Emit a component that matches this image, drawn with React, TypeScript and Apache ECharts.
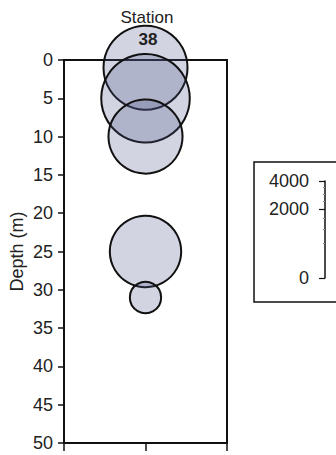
import React, { useEffect, useRef } from "react";
import * as echarts from "echarts";

// Station / depth data
const stationName = "Station";
const stationId = "38";
const depths = [1, 5, 10, 25, 31]; // m
const abundances = [3600, 4000, 2800, 2600, 500];
const depthTicks = [0, 5, 10, 15, 20, 25, 30, 35, 40, 45, 50];
const legendTicks = [0, 2000, 4000];
const legendMinorTicks = [500, 1000, 1500, 2500, 3000, 3500];

const FONT = "'Liberation Sans', Arial, Helvetica, sans-serif";
const SIZE_K = 1.4; // px diameter per sqrt(unit)

export default function App() {
  const ref = useRef<HTMLDivElement>(null);
  useEffect(() => {
    if (!ref.current) return;
    const chart = echarts.init(ref.current, undefined, { renderer: "svg" });
    const legendMax = Math.sqrt(legendTicks[legendTicks.length - 1]);
    const option: any = {
      animation: false,
      backgroundColor: "#fff",
      textStyle: { fontFamily: FONT },
      title: [
        {
          text: stationName,
          left: 142,
          top: 4,
          textAlign: "center",
          textStyle: { fontFamily: FONT, fontSize: 17, fontWeight: "normal", color: "#222" },
        },
        {
          text: stationId,
          left: 143,
          top: 26,
          textAlign: "center",
          textStyle: { fontFamily: FONT, fontSize: 17, fontWeight: "bold", color: "#222" },
        },
      ],
      grid: [
        {
          left: 64,
          top: 60,
          width: 163,
          height: 383,
          show: true,
          borderColor: "#111",
          borderWidth: 2,
          backgroundColor: "transparent",
        },
        { left: 325, top: 181, width: 10, height: 97 },
      ],
      xAxis: [
        {
          gridIndex: 0,
          type: "value",
          position: "bottom",
          min: 0,
          max: 2,
          interval: 1,
          axisLine: { show: true, onZero: false, lineStyle: { color: "#111", width: 2 } },
          axisTick: { show: true, inside: false, length: 8, lineStyle: { color: "#111", width: 1.5 } },
          axisLabel: { show: false },
          splitLine: { show: false },
        },
        { gridIndex: 1, type: "value", show: false, min: 0, max: 1 },
      ],
      yAxis: [
        {
          gridIndex: 0,
          type: "value",
          inverse: true,
          min: depthTicks[0],
          max: depthTicks[depthTicks.length - 1],
          interval: depthTicks[1] - depthTicks[0],
          name: "Depth (m)",
          nameLocation: "middle",
          nameGap: 38,
          nameTextStyle: { fontFamily: FONT, fontSize: 18, color: "#222" },
          axisLine: { show: true, onZero: false, lineStyle: { color: "#111", width: 2 } },
          axisTick: { show: true, inside: false, length: 6, lineStyle: { color: "#111", width: 1.5 } },
          axisLabel: { fontFamily: FONT, fontSize: 18, color: "#222", margin: 11 },
          splitLine: { show: false },
        },
        {
          gridIndex: 1,
          type: "value",
          min: 0,
          max: legendMax,
          position: "left",
          axisLine: { show: true, onZero: false, lineStyle: { color: "#111", width: 1.5 } },
          axisTick: {
            show: true,
            length: 6,
            customValues: legendTicks.map((v) => Math.sqrt(v)),
            lineStyle: { color: "#111", width: 1.2 },
          },
          axisLabel: {
            customValues: legendTicks.map((v) => Math.sqrt(v)),
            formatter: (v: number) => {
              let best = legendTicks[0];
              legendTicks.forEach((t) => {
                if (Math.abs(Math.sqrt(t) - v) < Math.abs(Math.sqrt(best) - v)) best = t;
              });
              return String(best);
            },
            fontFamily: FONT,
            fontSize: 18,
            color: "#222",
            margin: 16,
          },
          splitLine: { show: false },
        },
        {
          gridIndex: 1,
          type: "value",
          min: 0,
          max: legendMax,
          position: "left",
          axisLine: { show: false },
          axisTick: {
            show: true,
            length: 2,
            customValues: legendMinorTicks.map((v) => Math.sqrt(v)),
            lineStyle: { color: "#888", width: 1 },
          },
          axisLabel: { show: false },
          splitLine: { show: false },
        },
      ],
      graphic: [
        {
          type: "rect",
          shape: { x: 254, y: 162, width: 120, height: 140 },
          style: { fill: "none", stroke: "#111", lineWidth: 1.5 },
        },
      ],
      series: [
        {
          type: "scatter",
          xAxisIndex: 0,
          yAxisIndex: 0,
          clip: false,
          data: depths.map((d, i) => [1, d, abundances[i]]),
          symbolSize: (val: number[]) => Math.sqrt(val[2]) * SIZE_K,
          itemStyle: {
            color: "rgba(75,85,135,0.25)",
            borderColor: "#111",
            borderWidth: 2,
            opacity: 1,
          },
          emphasis: { disabled: true },
        },
      ],
    };
    chart.setOption(option);
    return () => chart.dispose();
  }, []);
  return (
    <div
      ref={ref}
      style={{ position: "fixed", left: 0, top: 0, width: 336, height: 455, background: "#fff" }}
    />
  );
}
